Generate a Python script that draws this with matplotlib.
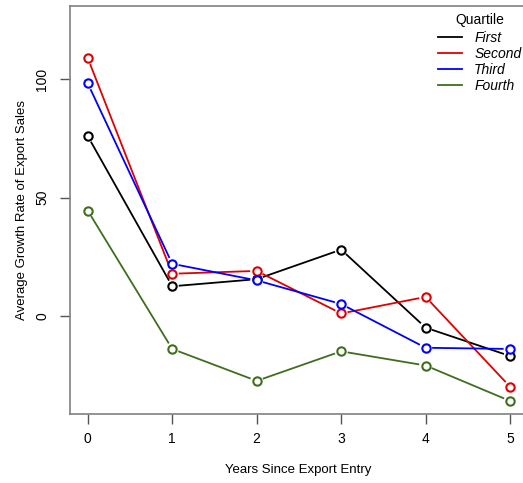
import numpy as np
import matplotlib
matplotlib.use('Agg')
import matplotlib.pyplot as plt
from matplotlib.lines import Line2D

plt.rcParams['font.family'] = ['Liberation Sans', 'DejaVu Sans']

years = [0, 1, 2, 3, 4, 5]
first = [76, 12.5, 15.5, 28, -5, -17]
second = [109, 17.8, 19, 1, 8, -30]
third = [98.3, 22, 15, 5, -13.5, -14]
fourth = [44.5, -14, -27.5, -15, -21, -36]

series = [('First', first, 'black'),
          ('Second', second, '#e00000'),
          ('Third', third, '#0000ff'),
          ('Fourth', fourth, '#3f6e1f')]

fig = plt.figure(figsize=(5.23, 4.83), dpi=100)
ax = fig.add_axes([70 / 523, 69 / 483, 457 / 523, 408 / 483])
ax.set_xlim(-0.21, 5.2)
ax.set_ylim(-41.5, 131)

gap = 6.5  # px gap around points, like R type="b"
for name, vals, col in series:
    pts = ax.transData.transform(np.column_stack([years, vals]))
    for i in range(len(pts) - 1):
        p0, p1 = pts[i], pts[i + 1]
        d = p1 - p0
        dist = np.hypot(*d)
        if dist <= 2 * gap:
            continue
        u = d / dist
        a = ax.transData.inverted().transform([p0 + u * gap, p1 - u * gap])
        ax.plot(a[:, 0], a[:, 1], color=col, lw=1.3, solid_capstyle='butt')
    ax.plot(years, vals, 'o', ms=6, mfc='white', mec=col, mew=1.5, ls='none')

for s in ['left', 'bottom', 'top', 'right']:
    ax.spines[s].set_color('#808080')
    ax.spines[s].set_linewidth(1.2)

ax.set_xticks(years)
ax.set_yticks([0, 50, 100])
ax.tick_params(direction='out', length=7, width=1, color='#555555', labelsize=10, pad=8)
ax.tick_params(axis='x', pad=6)
for lab in ax.get_yticklabels():
    lab.set_rotation(90)
    lab.set_va('center')

ax.set_xlabel('Years Since Export Entry', fontsize=9.5, labelpad=13)
ax.set_ylabel('Average Growth Rate of Export Sales', fontsize=9.5, labelpad=5)

handles = [Line2D([], [], color=c, lw=1.3) for _, _, c in series]
leg = ax.legend(handles, [n for n, _, _ in series], title='Quartile', frameon=False,
                loc='upper right', bbox_to_anchor=(1.003, 1.0), fontsize=10,
                title_fontsize=10, handlelength=1.7, labelspacing=0.14,
                handletextpad=0.9, borderpad=0.3, borderaxespad=0.2)
leg._legend_box.sep = 3  # a bit more room under the title
for t in leg.get_texts():
    t.set_fontstyle('italic')

fig.savefig('out.png', dpi=100)
